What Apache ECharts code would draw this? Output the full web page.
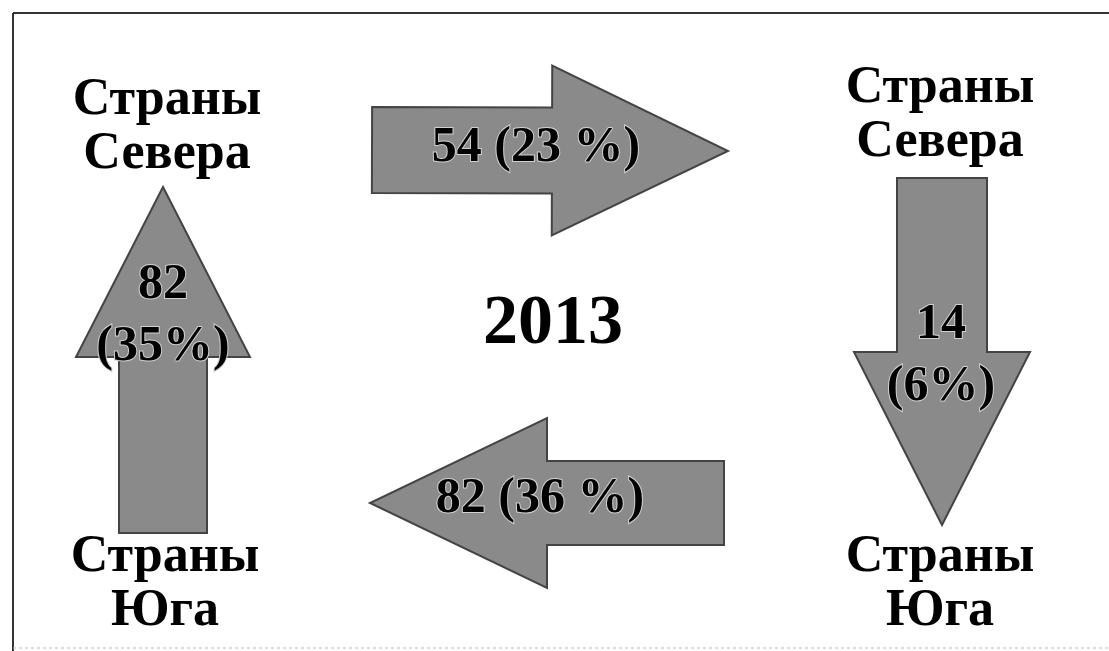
<!DOCTYPE html>
<html>
<head>
<meta charset="utf-8">
<script src="https://cdn.jsdelivr.net/npm/echarts@6/dist/echarts.min.js"></script>
<style>
  html, body { margin: 0; padding: 0; background: #fff; }
  #myChart { width: 1109px; height: 651px; }
</style>
</head>
<body>
<div id="myChart"></div>
<script>
// data: flows between groups of countries, 2013
var year = "2013";
var regionNames = ["Страны\nСевера", "Страны\nЮга"];
var flowFrom = [0, 0, 1, 1];      // index into regionNames
var flowTo = [0, 1, 0, 1];
var flowValues = [54, 14, 82, 82];
var flowShares = [23, 6, 36, 35];

// layout (pixel frame 1109 x 651)
var nodePos = [[167, 128], [940, 116], [165, 585], [940, 585]];
var arrowLayout = [
  // tail, tip, shaft half width, head half width, head length, label pos, vertical label
  { tail: [372, 150], tip: [728, 151], sw: 43, hw: 85, hl: 176, text: [536, 148], vert: false },
  { tail: [942, 178], tip: [942, 525], sw: 45, hw: 88, hl: 173, text: [941, 356], vert: true },
  { tail: [724, 503], tip: [370, 503], sw: 42, hw: 85, hl: 177, text: [540, 499], vert: false },
  { tail: [163, 533], tip: [163, 187], sw: 44, hw: 87, hl: 170, text: [163, 316], vert: true }
];
var flowOrder = [0, 1, 2, 3];

var font = "'Liberation Serif', 'DejaVu Serif', serif";

function flowLabel(i) {
  var lay = arrowLayout[i];
  return lay.vert
    ? flowValues[i] + "\n(" + flowShares[i] + "%)"
    : flowValues[i] + " (" + flowShares[i] + " %)";
}

function arrowPoints(lay, api) {
  var dx = lay.tip[0] - lay.tail[0], dy = lay.tip[1] - lay.tail[1];
  var len = Math.sqrt(dx * dx + dy * dy);
  var ux = dx / len, uy = dy / len, nx = -uy, ny = ux;
  var bx = lay.tip[0] - ux * lay.hl, by = lay.tip[1] - uy * lay.hl;
  var pts = [
    [lay.tail[0] + nx * lay.sw, lay.tail[1] + ny * lay.sw],
    [bx + nx * lay.sw, by + ny * lay.sw],
    [bx + nx * lay.hw, by + ny * lay.hw],
    [lay.tip[0], lay.tip[1]],
    [bx - nx * lay.hw, by - ny * lay.hw],
    [bx - nx * lay.sw, by - ny * lay.sw],
    [lay.tail[0] - nx * lay.sw, lay.tail[1] - ny * lay.sw]
  ];
  return pts.map(function (p) { return api.coord(p); });
}

var nodeData = [];
for (var k = 0; k < 4; k++) {
  nodeData.push([nodePos[k][0], nodePos[k][1], regionNames[k < 2 ? 0 : 1]]);
}

var myChart = echarts.init(document.getElementById("myChart"));
myChart.setOption({
  animation: false,
  backgroundColor: "#fff",
  grid: { left: 0, right: 0, top: 0, bottom: 0 },
  xAxis: { type: "value", min: 0, max: 1109, show: false },
  yAxis: { type: "value", min: 0, max: 651, inverse: true, show: false },
  graphic: [
    { type: "line", shape: { x1: 13, y1: 13, x2: 1109, y2: 13 }, style: { stroke: "#333", lineWidth: 2 } },
    { type: "line", shape: { x1: 13, y1: 13, x2: 13, y2: 651 }, style: { stroke: "#333", lineWidth: 2 } },
    { type: "line", shape: { x1: 13, y1: 648, x2: 1109, y2: 648 }, style: { stroke: "#bbb", lineWidth: 1, lineDash: [3, 3] } }
  ],
  series: [
    {
      type: "custom",
      name: "flows",
      coordinateSystem: "cartesian2d",
      data: flowOrder.map(function (i) { return [i, flowValues[i]]; }),
      renderItem: function (params, api) {
        var i = api.value(0);
        var lay = arrowLayout[i];
        var c = api.coord(lay.text);
        return {
          type: "group",
          children: [
            {
              type: "polygon",
              shape: { points: arrowPoints(lay, api) },
              style: { fill: "#8a8a8a", stroke: "#444", lineWidth: 2 }
            },
            {
              type: "text",
              x: c[0], y: c[1],
              style: {
                text: flowLabel(i),
                fill: "#000",
                font: "bold 50px " + font,
                align: "center",
                verticalAlign: "middle",
                lineHeight: 62,
                stroke: "#d0d0d0",
                lineWidth: 2
              }
            }
          ]
        };
      }
    },
    {
      type: "scatter",
      name: "regions",
      data: nodeData,
      symbolSize: 0,
      silent: true,
      itemStyle: { opacity: 1 },
      label: {
        show: true,
        position: "inside",
        formatter: function (p) { return p.data[2]; },
        color: "#000",
        fontFamily: font,
        fontWeight: "bold",
        fontSize: 52,
        lineHeight: 54
      }
    },
    {
      type: "scatter",
      name: "year",
      data: [[553, 325, year]],
      symbolSize: 0,
      silent: true,
      itemStyle: { opacity: 1 },
      label: {
        show: true,
        position: "inside",
        formatter: function (p) { return p.data[2]; },
        color: "#000",
        fontFamily: font,
        fontWeight: "bold",
        fontSize: 70
      }
    }
  ]
});
</script>
</body>
</html>
